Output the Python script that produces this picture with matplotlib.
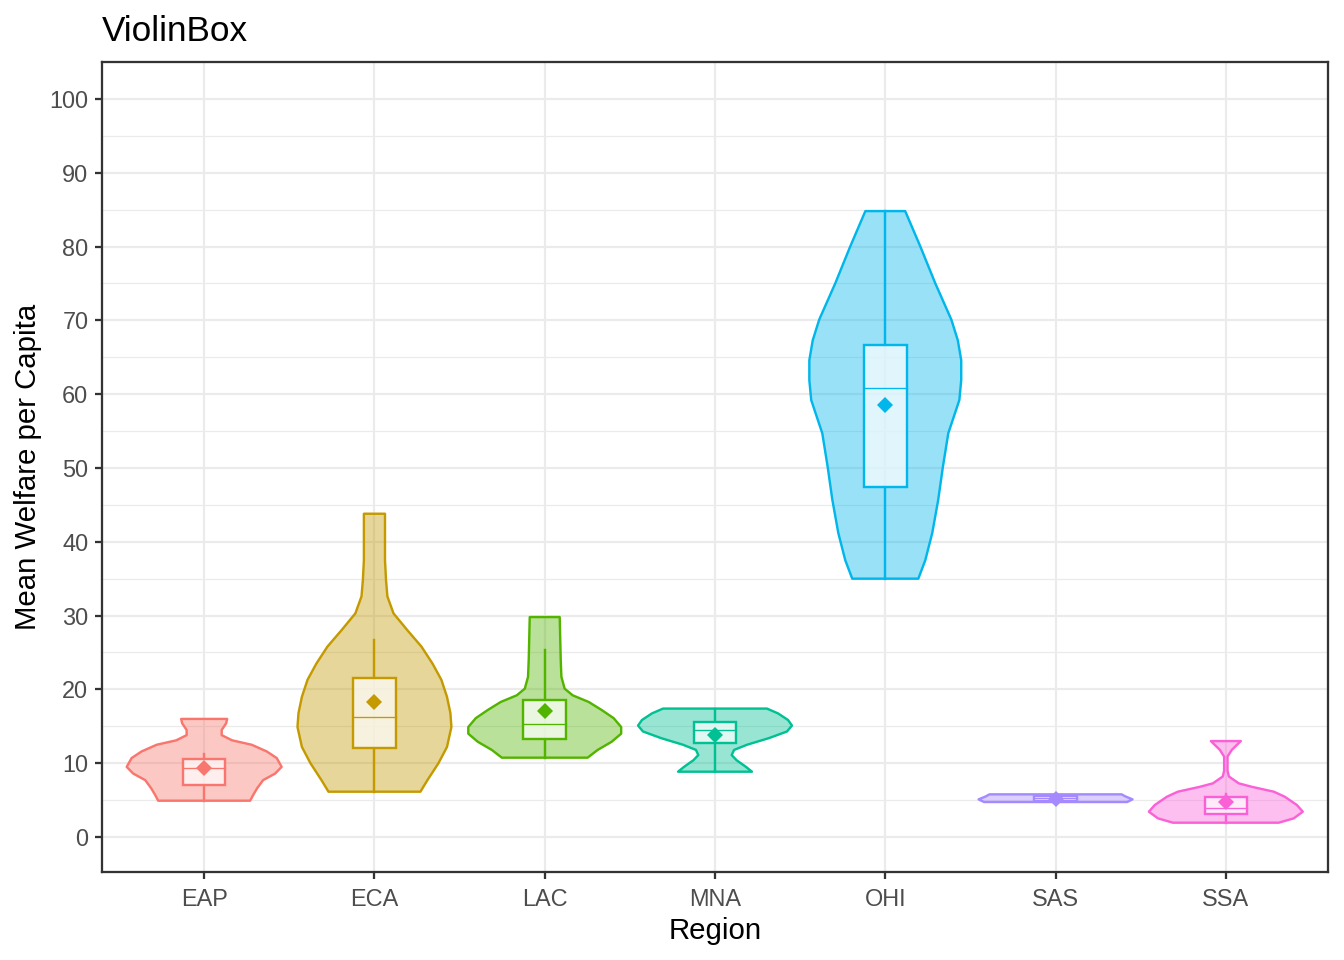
import numpy as np
import matplotlib
matplotlib.use("Agg")
import matplotlib.pyplot as plt

plt.rcParams["font.family"] = ["Liberation Sans", "DejaVu Sans"]

regions = ["EAP", "ECA", "LAC", "MNA", "OHI", "SAS", "SSA"]
colors = ["#F8766D", "#C49A00", "#53B400", "#00C094", "#00B6EB", "#A58AFF", "#FB61D7"]

# violin outline: y level and half-width (in category units)
eap_y = [4.92, 5.7, 6.6, 7.7, 8.6, 9.5, 10.7, 11.6, 12.5, 13.1, 13.8, 14.5, 15.4, 16.0]
eap_w = [0.270, 0.288, 0.311, 0.346, 0.417, 0.455, 0.426, 0.367, 0.279, 0.164, 0.103, 0.103, 0.129, 0.135]
eca_y = [6.14, 7.7, 10.0, 12.2, 14.9, 16.8, 19.0, 21.3, 23.5, 25.8, 28.0, 30.3, 32.6, 34.8, 37.5, 43.8]
eca_w = [0.270, 0.311, 0.376, 0.426, 0.452, 0.446, 0.426, 0.393, 0.341, 0.276, 0.194, 0.112, 0.076, 0.068, 0.062, 0.062]
lac_y = [10.75, 11.8, 12.9, 14.0, 14.9, 16.1, 17.2, 18.3, 19.2, 20.1, 21.7, 24.0, 29.8]
lac_w = [0.252, 0.311, 0.393, 0.449, 0.449, 0.405, 0.335, 0.258, 0.164, 0.117, 0.098, 0.094, 0.088]
mna_y = [8.85, 9.5, 10.4, 11.1, 11.8, 12.5, 13.4, 14.3, 15.1, 15.85, 16.75, 17.4]
mna_w = [0.217, 0.182, 0.127, 0.098, 0.112, 0.188, 0.317, 0.423, 0.452, 0.429, 0.370, 0.305]
ohi_y = [35.0, 37.5, 41.2, 45.7, 50.1, 54.7, 59.2, 61.9, 64.6, 67.3, 70.1, 75.0, 80.0, 84.8]
ohi_w = [0.194, 0.235, 0.276, 0.311, 0.338, 0.37, 0.435, 0.446, 0.446, 0.426, 0.388, 0.294, 0.206, 0.117]
sas_y = [4.74, 5.1, 5.5, 5.78]
sas_w = [0.42, 0.452, 0.41, 0.388]
ssa_y = [1.94, 2.53, 3.43, 4.34, 5.46, 6.14, 6.8, 7.27, 8.2, 9.0, 10.9, 11.8, 13.0]
ssa_w = [0.311, 0.399, 0.452, 0.417, 0.346, 0.282, 0.153, 0.076, 0.018, 0.01, 0.01, 0.035, 0.088]

violin_y = [eap_y, eca_y, lac_y, mna_y, ohi_y, sas_y, ssa_y]
violin_w = [eap_w, eca_w, lac_w, mna_w, ohi_w, sas_w, ssa_w]

# box stats
whisk_lo = [4.92, 6.14, 10.75, 8.85, 35.0, 4.74, 1.94]
q1 = [7.05, 12.1, 13.3, 12.7, 47.4, 4.88, 3.07]
median = [9.35, 16.3, 15.3, 14.45, 60.8, 5.24, 3.88]
q3 = [10.6, 21.5, 18.6, 15.6, 66.6, 5.56, 5.46]
whisk_hi = [11.2, 26.7, 25.4, 17.4, 84.8, 5.78, 5.8]
means = [9.4, 18.3, 17.1, 13.8, 58.5, 5.15, 4.8]

LW = 0.9
BOX_HW = 0.125

fig = plt.figure(figsize=(7, 5), dpi=192)
ax = fig.add_axes([102 / 1344, 1 - 872 / 960, (1328 - 102) / 1344, (872 - 62) / 960])

for i, r in enumerate(regions):
    x = i + 1
    c = colors[i]
    y = np.array(violin_y[i])
    w = np.array(violin_w[i])
    xs = np.concatenate([x - w, (x + w)[::-1]])
    ys = np.concatenate([y, y[::-1]])
    ax.fill(xs, ys, facecolor=c, alpha=0.4, edgecolor="none", zorder=3)
    ax.fill(xs, ys, facecolor="none", edgecolor=c, lw=LW, joinstyle="round", zorder=4)

    # boxplot
    ax.plot([x, x], [whisk_lo[i], q1[i]], color=c, lw=LW, zorder=5)
    ax.plot([x, x], [q3[i], whisk_hi[i]], color=c, lw=LW, zorder=5)
    ax.add_patch(plt.Rectangle((x - BOX_HW, q1[i]), 2 * BOX_HW, q3[i] - q1[i],
                               facecolor="white", alpha=0.7, edgecolor="none", zorder=5))
    ax.add_patch(plt.Rectangle((x - BOX_HW, q1[i]), 2 * BOX_HW, q3[i] - q1[i],
                               facecolor="none", edgecolor=c, lw=LW, zorder=6))
    ax.plot([x - BOX_HW, x + BOX_HW], [median[i], median[i]], color=c, lw=0.5, zorder=6)
    ax.plot(x, means[i], marker="D", color=c, markersize=4.4, markeredgewidth=0, zorder=7)

ax.set_xlim(0.4, 7.6)
ax.set_ylim(-4.74, 105.0)
ax.set_xticks(range(1, 8))
ax.set_xticklabels(regions)
ax.set_yticks(range(0, 101, 10))
ax.set_yticks(range(5, 100, 10), minor=True)

ax.grid(True, which="major", color="#EBEBEB", lw=0.8, zorder=0)
ax.grid(True, which="minor", axis="y", color="#EBEBEB", lw=0.45, zorder=0)
ax.set_axisbelow(True)
for s in ax.spines.values():
    s.set_color("#333333")
    s.set_linewidth(0.85)
ax.tick_params(which="major", length=2.75, width=0.85, color="#333333",
               labelsize=8.8, labelcolor="#4D4D4D")
ax.tick_params(axis="x", pad=3.4)
ax.tick_params(axis="y", pad=2.4)
ax.tick_params(which="minor", length=0)

fig.text(102 / 1344, 1 - 41 / 960, "ViolinBox", fontsize=13.2, va="baseline", ha="left")
fig.text(715 / 1344, 1 - 939 / 960, "Region", fontsize=11, va="baseline", ha="center")
fig.text(28 / 1344, 1 - 467 / 960, "Mean Welfare per Capita", fontsize=11,
         rotation=90, va="center", ha="center")

fig.savefig("out.png", dpi=192)
